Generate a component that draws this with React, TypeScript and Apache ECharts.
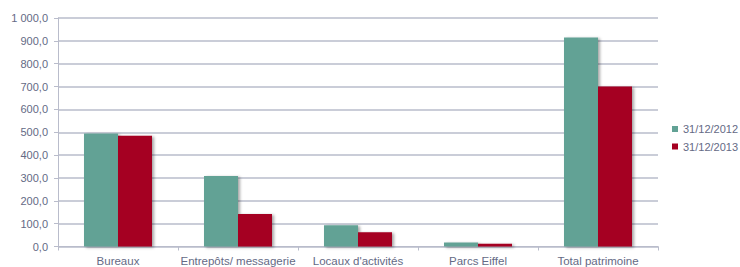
import React, { useEffect, useRef } from "react";
import * as echarts from "echarts";

const categories = ["Bureaux", "Entrepôts/ messagerie", "Locaux d'activités", "Parcs Eiffel", "Total patrimoine"];
const series2012 = [495, 308, 93, 18, 915];
const series2013 = [485, 142, 62, 12, 700];
const seriesNames = ["31/12/2012", "31/12/2013"];

const FONT = "'Liberation Sans', Arial, Helvetica, sans-serif";
const LABEL = "#646a85";
const GRID = "#b9bccb";

function fmt(v: number): string {
  const s = v.toFixed(1).replace(".", ",");
  const [i, d] = s.split(",");
  return i.replace(/\B(?=(\d{3})+(?!\d))/g, " ") + "," + d;
}

export default function App() {
  const ref = useRef<HTMLDivElement>(null);
  useEffect(() => {
    document.body.style.margin = "0";
    const chart = echarts.init(ref.current!, null, { renderer: "svg" });
    const shadow = { shadowColor: "rgba(0,0,0,0.35)", shadowBlur: 3, shadowOffsetX: 2, shadowOffsetY: 1 };
    chart.setOption({
      animation: false,
      textStyle: { fontFamily: FONT },
      grid: { left: 58, right: 82, top: 18, bottom: 20.5, containLabel: false },
      legend: {
        orient: "vertical",
        left: 672,
        top: 123.5,
        padding: 0,
        itemWidth: 6,
        itemHeight: 6,
        itemGap: 6.5,
        icon: "rect",
        textStyle: { color: LABEL, fontSize: 11, fontFamily: FONT },
        data: seriesNames,
      },
      xAxis: {
        type: "category",
        data: categories,
        axisLine: { show: true, lineStyle: { color: GRID, width: 1 } },
        axisTick: { show: true, alignWithLabel: false, length: 4, lineStyle: { color: GRID } },
        axisLabel: { color: LABEL, fontSize: 11.5, fontFamily: FONT, margin: 8, interval: 0 },
      },
      yAxis: {
        type: "value",
        min: 0,
        max: 1000,
        interval: 100,
        axisLine: { show: true, lineStyle: { color: GRID, width: 1 } },
        axisTick: { show: true, length: 4, lineStyle: { color: GRID } },
        axisLabel: { color: LABEL, fontSize: 11, fontFamily: FONT, margin: 10, formatter: (v: number) => fmt(v) },
        splitLine: { show: true, lineStyle: { color: GRID, width: 1.5 } },
      },
      series: [
        {
          name: seriesNames[0],
          type: "bar",
          data: series2012,
          barWidth: 34,
          barGap: "0%",
          itemStyle: { color: "#62a295", ...shadow },
        },
        {
          name: seriesNames[1],
          type: "bar",
          data: series2013,
          barWidth: 34,
          barGap: "0%",
          itemStyle: { color: "#a50021", ...shadow },
        },
      ],
    });
    return () => chart.dispose();
  }, []);
  return <div ref={ref} style={{ width: 740, height: 267 }} />;
}
